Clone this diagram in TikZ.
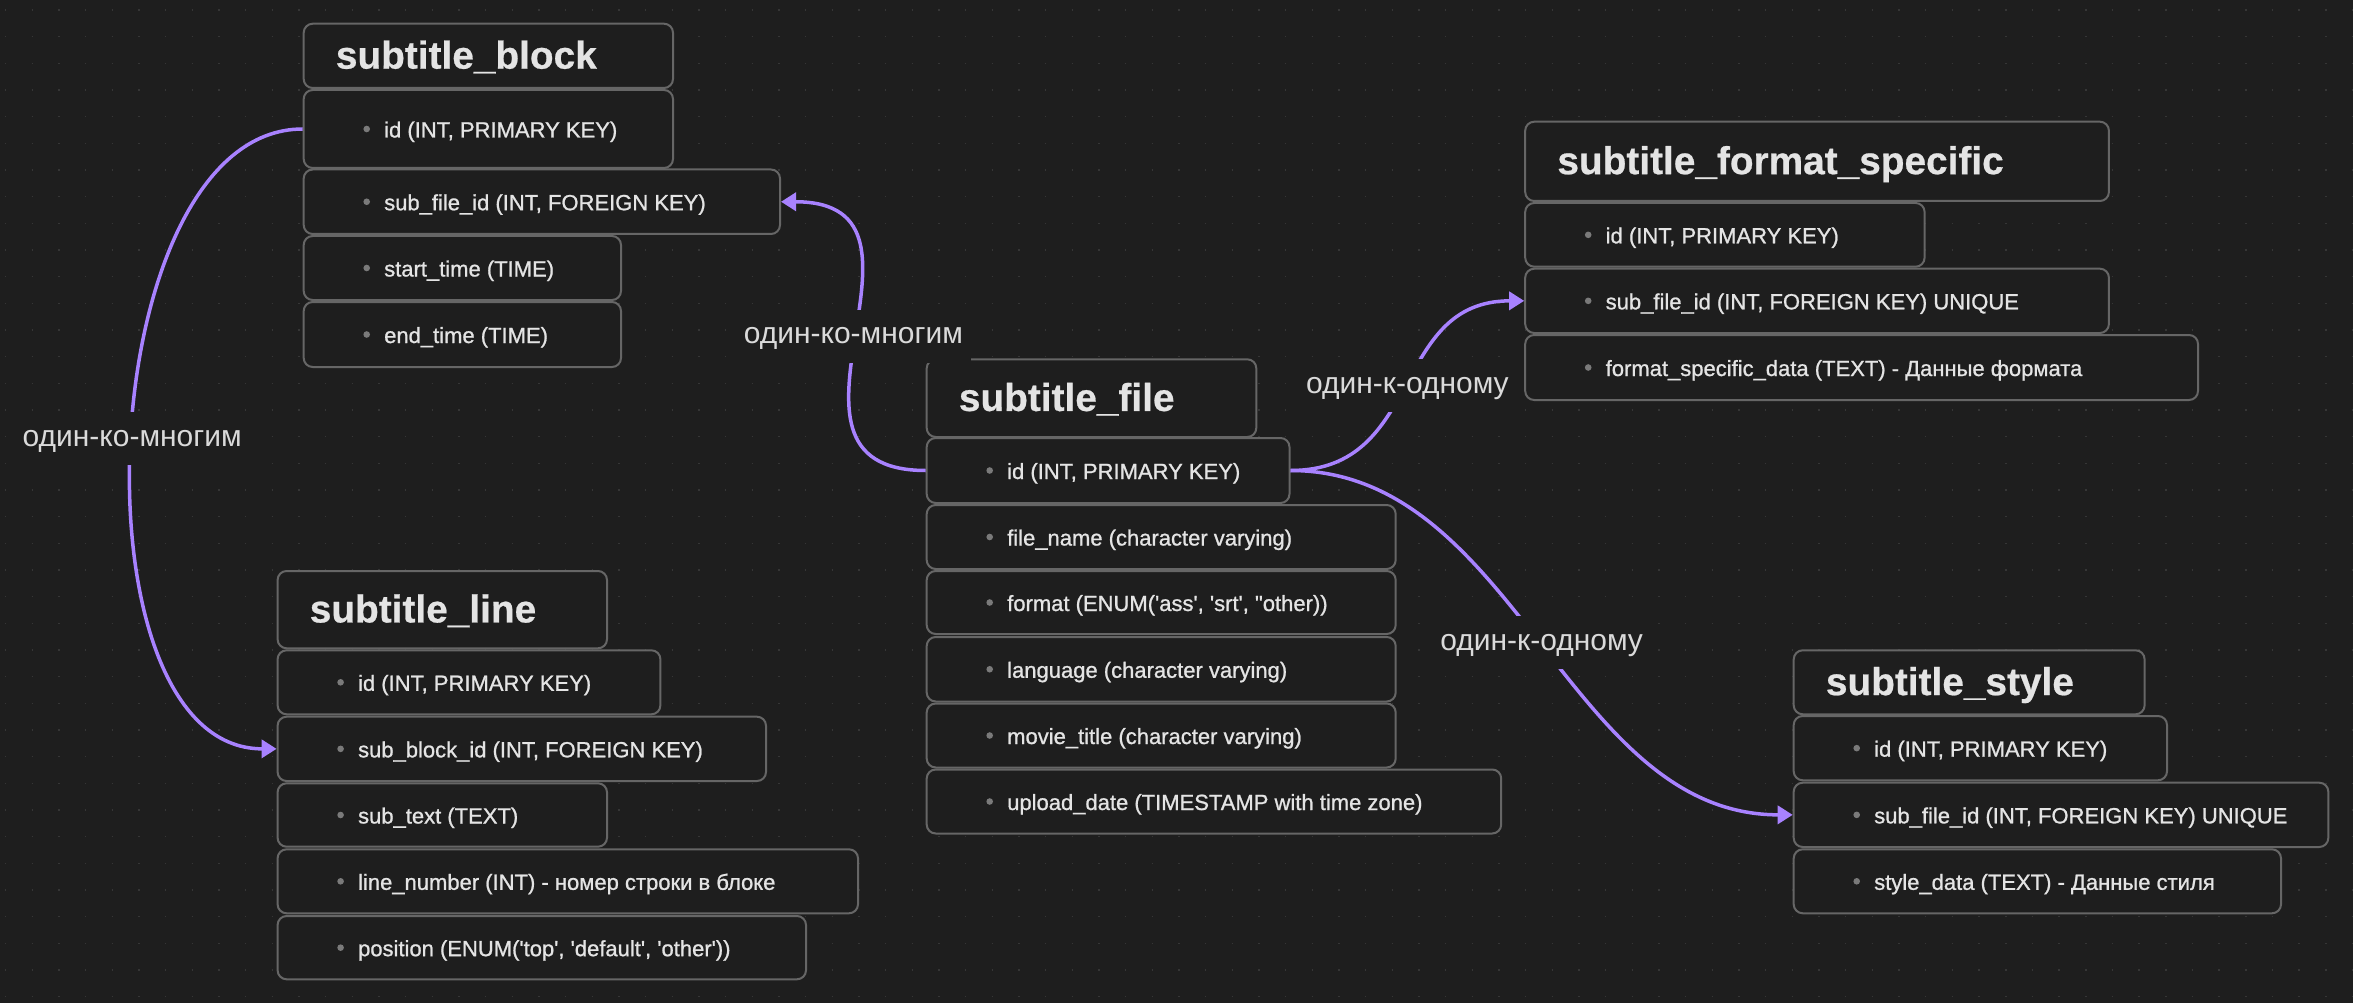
\documentclass[tikz,border=0pt]{standalone}
\usepackage{fontspec}
\setmainfont{Liberation Sans}
\newfontfamily\rowfont{Liberation Sans}[FakeBold=1.0]
\newfontfamily\titlefont{Liberation Sans}[BoldFeatures={FakeBold=0.6}]
\usetikzlibrary{arrows.meta}
\definecolor{bg}{HTML}{1E1E1E}
\definecolor{gridc}{HTML}{363636}
\definecolor{boxline}{HTML}{666666}
\definecolor{txt}{HTML}{E4E4E4}
\definecolor{bul}{HTML}{7A7A7A}
\definecolor{edgec}{HTML}{A882FF}
\definecolor{lbl}{HTML}{DADADA}
\tikzset{
  tbox/.style={draw=boxline, line width=2pt, fill=bg, rounded corners=9pt, rectangle, inner sep=0pt, anchor=north west},
  ttext/.style={text=txt, font=\titlefont\fontsize{38.8}{44}\selectfont\bfseries, inner sep=0pt, anchor=base west},
  rtext/.style={text=txt, font=\rowfont\fontsize{22}{26}\selectfont, inner sep=0pt, anchor=base west},
  rel/.style={draw=edgec, line width=3.5pt, -{Triangle[length=15pt,width=18pt]}},
  rellabel/.style={fill=bg, text=lbl, font=\fontsize{30}{34}\selectfont, inner xsep=8pt, inner ysep=0pt, minimum height=53pt, text height=15.6pt, text depth=0pt},
}
\newcommand\tabletitle[6]{%
  \node[tbox, minimum width=#4pt, minimum height=#5pt] (#1) at (#2,#3) {};
  \node[ttext] (#1-t) at ([xshift=33pt,yshift=-12.8pt]#1.west) {#6};
}
\newcommand\tablerow[6]{%
  \node[tbox, minimum width=#4pt, minimum height=#5pt] (#1) at (#2,#3) {};
  \fill[bul] ([xshift=64pt]#1.west) circle (3.3pt);
  \node[rtext] (#1-t) at ([xshift=81.3pt,yshift=-8.5pt]#1.west) {#6};
}
\newcommand\q{\textquotesingle}
\begin{document}
\begin{tikzpicture}[x=1pt,y=-1pt]
\useasboundingbox (0,0) rectangle (2353,1003);
\fill[bg] (0,0) rectangle (2353,1003);
\foreach \k in {0,...,37} {
  \draw[gridc, line width=1.5pt, dash pattern=on 1.5pt off 25.167pt] (4.95,{10+\k*26.667}) -- (2353,{10+\k*26.667});
}
% subtitle_block
\tabletitle{blk}{302.7}{22.7}{369.3}{64.3}{subtitle\_block}
\tablerow{blk-id}{302.7}{89}{369.3}{78}{id (INT, PRIMARY KEY)}
\tablerow{blk-fk}{302.7}{168.5}{476.3}{64.5}{sub\_file\_id (INT, FOREIGN KEY)}
\tablerow{blk-st}{302.7}{235}{317.3}{64}{start\_time (TIME)}
\tablerow{blk-et}{302.7}{301}{317.3}{65}{end\_time (TIME)}
% subtitle_line
\tabletitle{line}{276.6}{570}{329.4}{77.3}{subtitle\_line}
\tablerow{line-id}{276.6}{649.3}{382.8}{64}{id (INT, PRIMARY KEY)}
\tablerow{line-fk}{276.6}{715.7}{488.4}{64.3}{sub\_block\_id (INT, FOREIGN KEY)}
\tablerow{line-tx}{276.6}{782.3}{329.4}{63.4}{sub\_text (TEXT)}
\tablerow{line-nr}{276.6}{848.3}{580.4}{64}{line\_number (INT) - номер строки в блоке}
\tablerow{line-ps}{276.6}{915}{528.4}{63.3}{position (ENUM(\q top\q, \q default\q, \q other\q))}
% subtitle_file
\tabletitle{file}{925.7}{358.3}{329.6}{77.7}{subtitle\_file}
\tablerow{file-id}{925.7}{437}{362.8}{65}{id (INT, PRIMARY KEY)}
\tablerow{file-nm}{925.7}{504}{469}{64}{file\_name (character varying)}
\tablerow{file-fm}{925.7}{570}{469}{63}{format (ENUM(\q ass\q, \q srt\q, "other))}
\tablerow{file-lg}{925.7}{636}{469}{64.5}{language (character varying)}
\tablerow{file-mt}{925.7}{702.5}{469}{64}{movie\_title (character varying)}
\tablerow{file-ud}{925.7}{768.5}{574.5}{64}{upload\_date (TIMESTAMP with time zone)}
% subtitle_format_specific
\tabletitle{fmt}{1524.2}{120.7}{583.7}{79.3}{subtitle\_format\_specific}
\tablerow{fmt-id}{1524.2}{202}{399.4}{63.7}{id (INT, PRIMARY KEY)}
\tablerow{fmt-fk}{1524.2}{267.7}{583.7}{64.3}{sub\_file\_id (INT, FOREIGN KEY) UNIQUE}
\tablerow{fmt-dt}{1524.2}{334}{672.8}{65}{format\_specific\_data (TEXT) - Данные формата}
% subtitle_style
\tabletitle{sty}{1792.7}{649.3}{350.9}{64}{subtitle\_style}
\tablerow{sty-id}{1792.7}{715}{373.3}{64.3}{id (INT, PRIMARY KEY)}
\tablerow{sty-fk}{1792.7}{781.7}{534.6}{64.3}{sub\_file\_id (INT, FOREIGN KEY) UNIQUE}
\tablerow{sty-dt}{1792.7}{848.3}{487.3}{64}{style\_data (TEXT) - Данные стиля}
% relations
\draw[rel] (blk-id.west) .. controls +(-210,0) and +(-210,0) .. (line-fk.west) node[rellabel, pos=0.5] (l1) {один-ко-многим};
\draw[rel] (file-id.west) .. controls +(-180,0) and +(180,0) .. (blk-fk.east) node[rellabel, pos=0.5] (l2) {один-ко-многим};
\draw[rel] (file-id.east) .. controls +(134,0) and +(-134,0) .. (fmt-fk.west) node[rellabel, pos=0.5] (l3) {один-к-одному};
\draw[rel] (file-id.east) .. controls +(226,0) and +(-226,0) .. (sty-fk.west) node[rellabel, pos=0.5] (l4) {один-к-одному};
\end{tikzpicture}
\end{document}
